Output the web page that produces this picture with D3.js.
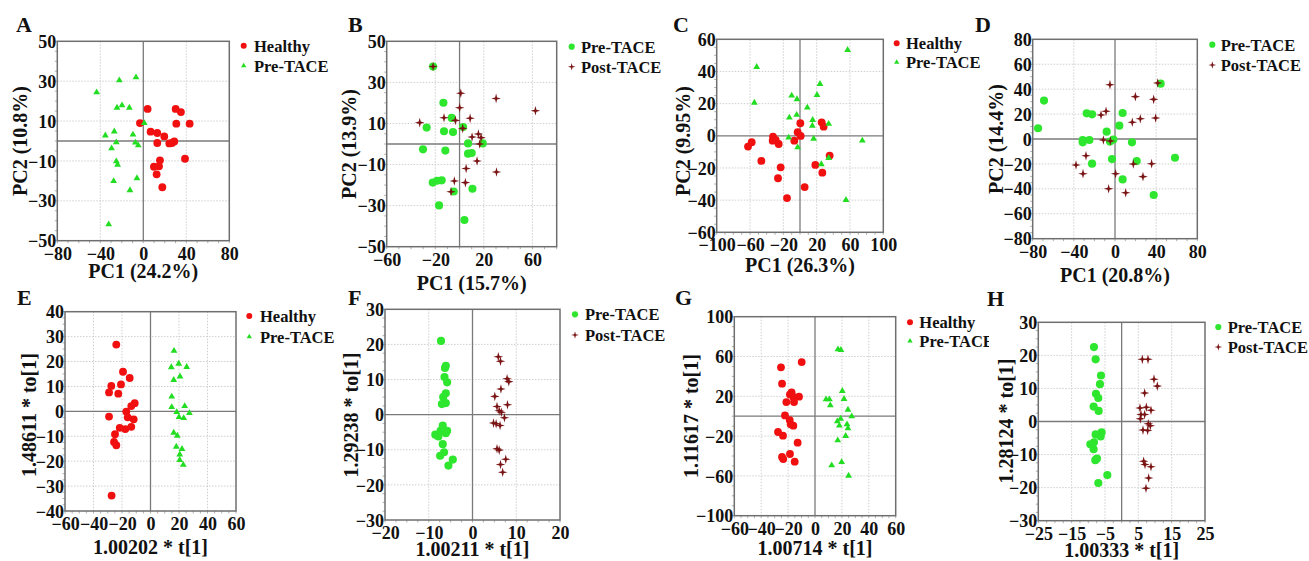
<!DOCTYPE html>
<html>
<head>
<meta charset="utf-8">
<script src="https://cdn.jsdelivr.net/npm/d3@7"></script>
<style>
  html, body { margin: 0; padding: 0; background: #fff; }
  svg { display: block; }
  text { font-family: "Liberation Serif", "Times New Roman", serif; font-weight: bold; fill: #111; }
</style>
</head>
<body>
<svg id="fig" width="1309" height="561"></svg>
<script>
// ---------- Data: score plots (PCA A–D, OPLS-DA E–H) ----------
const A_healthy = [[4.0,16.1],[-3.1,9.0],[6.8,4.7],[13.0,4.0],[19.5,2.3],[13.0,-1.0],[24.2,-1.2],[26.7,-1.0],[28.8,-0.2],[30.1,16.1],[35.0,14.5],[30.7,8.7],[43.1,8.7],[38.8,-8.9],[15.5,-9.7],[9.9,-12.9],[14.6,-12.7],[12.4,-16.7],[17.7,-23.2]];
const A_pre = [[-43.4,24.4],[-22.3,30.4],[-6.8,31.9],[-24.5,16.7],[-19.8,17.9],[-13.0,16.7],[0.9,9.0],[-35.3,2.8],[-27.0,4.8],[-9.6,3.2],[-25.1,-0.7],[-7.4,-0.8],[-4.7,-2.2],[-29.5,-3.7],[-25.1,-10.2],[-23.9,-11.9],[-27.6,-20.1],[-5.9,-18.7],[-12.4,-24.7],[-32.2,-41.8]];

const B_pre = [[-21.8,37.7],[-13.3,20.1],[-27.1,8.0],[-12.8,6.2],[-5.4,5.8],[-6.5,12.7],[2.9,8.3],[-30.1,-2.6],[-11.7,-3.2],[7.0,0.3],[19.1,0.3],[7.0,-4.7],[10.0,-4.4],[-22.1,-18.8],[-18.5,-17.9],[-14.7,-17.7],[-4.8,-23.1],[10.6,-21.8],[-16.9,-29.9],[4.0,-37.0]];
const B_post = [[-21.8,37.7],[1.0,24.7],[30.1,22.2],[62.5,16.2],[0.1,17.7],[8.7,12.5],[-12.8,12.8],[-3.4,11.5],[-32.8,10.4],[2.6,7.6],[10.3,3.4],[15.5,4.9],[17.7,3.1],[16.6,0.0],[14.4,-8.3],[5.4,-11.9],[30.4,-13.6],[-4.3,-18.0],[4.8,-18.8],[-7.0,-23.2]];

const C_healthy = [[-62.4,-6.7],[-58.0,-4.0],[-46.4,-15.6],[-32.8,-3.0],[-32.4,-0.5],[-29.2,-2.6],[-25.6,-5.1],[-23.2,-19.6],[-26.4,-26.4],[-15.6,-38.7],[-6.8,-3.0],[-2.8,2.2],[0.4,7.8],[0.8,-0.1],[5.6,-31.9],[18.4,-18.1],[26.0,8.4],[28.4,5.7],[26.8,-22.9],[35.6,-12.3]];
const C_pre = [[-52.0,42.8],[-54.8,20.6],[57.2,53.4],[-10.0,25.0],[-3.6,22.7],[24.0,32.2],[20.4,25.4],[8.8,17.5],[-12.8,11.3],[-4.0,13.0],[15.2,9.8],[14.8,6.3],[34.4,7.4],[-13.6,-1.1],[-2.8,-7.2],[16.4,-1.8],[74.8,-3.0],[25.6,-17.7],[34.4,-13.8],[55.2,-39.9]];

const D_pre = [[-69.0,30.8],[-74.8,8.6],[-27.5,20.6],[-22.3,19.8],[-31.4,-0.8],[-31.4,-2.7],[-24.9,-0.8],[-22.3,-19.8],[-8.1,5.9],[-4.9,-2.1],[-1.6,-0.5],[-2.9,-16.1],[4.2,10.7],[7.4,20.9],[16.5,-2.7],[21.1,-17.7],[7.4,-32.4],[37.6,-44.9],[44.4,44.4],[58.3,-15.0]];
const D_post = [[-4.9,43.6],[41.5,44.9],[19.8,34.0],[37.6,31.8],[-8.7,22.2],[-13.6,19.3],[24.6,16.3],[39.5,16.9],[16.8,13.4],[-11.3,-0.8],[-4.5,-1.6],[-28.2,-13.4],[-37.9,-20.9],[-31.1,-27.8],[0.6,-27.8],[-6.2,-39.9],[10.4,-43.1],[17.8,-20.1],[27.2,-30.2],[35.6,-19.8]];

const E_healthy = [[-24.0,26.8],[-19.3,15.9],[-14.6,13.4],[-27.5,10.2],[-29.1,7.6],[-20.7,10.8],[-22.6,7.1],[-11.1,3.3],[-13.5,2.1],[-17.0,-0.1],[-16.0,-2.4],[-11.8,-3.2],[-29.1,-2.1],[-21.6,-6.6],[-17.7,-7.1],[-13.5,-6.2],[-24.9,-9.2],[-25.6,-12.3],[-24.0,-13.6],[-27.3,-33.8]];
const E_pre = [[16.5,24.3],[19.8,19.1],[25.4,17.8],[14.6,17.7],[20.7,14.0],[16.3,12.6],[14.9,5.9],[14.9,1.7],[24.0,2.1],[18.4,-0.3],[27.3,-0.7],[20.0,-2.3],[23.3,-2.7],[16.3,-8.6],[18.8,-9.8],[18.1,-14.2],[22.1,-15.1],[20.5,-17.3],[20.5,-19.5],[23.0,-21.5]];

const F_pre = [[-7.2,21.0],[-6.1,13.9],[-6.3,13.3],[-6.4,10.7],[-5.8,9.2],[-6.1,6.1],[-6.7,5.0],[-6.1,3.3],[-7.0,3.0],[-6.8,-3.1],[-7.3,-4.6],[-5.8,-4.6],[-6.1,-5.3],[-8.5,-5.7],[-7.8,-6.2],[-6.8,-8.4],[-6.5,-10.7],[-7.4,-11.7],[-4.5,-12.8],[-5.5,-14.5]];
const F_post = [[5.9,16.5],[6.4,15.2],[7.9,10.2],[8.3,9.4],[6.5,7.3],[5.1,5.2],[5.6,2.3],[8.0,2.8],[6.1,1.1],[6.6,0.7],[7.3,-0.9],[4.8,-2.4],[5.4,-2.6],[6.3,-3.1],[5.6,-9.7],[6.1,-10.1],[7.6,-12.7],[6.4,-14.2],[6.9,-16.4]];

const G_healthy = [[-9.9,54.4],[-25.3,49.1],[-24.5,32.7],[-17.4,24.0],[-18.6,21.9],[-11.9,19.6],[-16.1,19.3],[-21.3,14.2],[-15.6,14.2],[-22.3,0.8],[-18.8,-3.9],[-18.1,-8.2],[-16.1,-9.5],[-27.5,-15.9],[-23.8,-19.6],[-12.9,-26.6],[-18.6,-38.0],[-24.5,-41.0],[-23.6,-43.1],[-15.1,-45.7]];
const G_pre = [[17.1,67.2],[19.3,66.5],[20.3,25.3],[8.2,16.9],[10.7,16.9],[21.6,17.3],[11.4,10.9],[24.5,6.5],[27.3,-0.2],[19.1,-2.5],[16.6,-5.2],[18.1,-9.5],[23.8,-8.2],[24.5,-12.2],[22.8,-19.9],[16.9,-24.3],[12.4,-49.4],[19.8,-46.1],[25.0,-59.8]];

const H_pre = [[-8.3,22.5],[-7.8,18.8],[-6.2,13.9],[-6.5,11.3],[-7.7,8.4],[-7.0,7.1],[-8.4,4.5],[-6.9,3.2],[-6.0,-3.3],[-7.8,-3.9],[-6.3,-4.5],[-9.4,-6.9],[-8.3,-6.3],[-8.4,-8.4],[-7.4,-11.2],[-7.9,-11.7],[-4.3,-16.2],[-7.0,-18.6]];
const H_post = [[6.2,18.8],[7.9,18.8],[9.7,12.8],[10.7,10.7],[6.9,8.6],[5.5,4.1],[7.4,4.3],[8.8,3.4],[5.8,2.1],[6.9,2.1],[5.6,0.8],[8.0,-0.7],[8.6,-1.3],[6.4,-2.6],[7.8,-2.7],[6.6,-12.0],[7.0,-13.0],[8.8,-13.7],[8.1,-17.1],[7.3,-20.2]];

// ---------- Tick values ----------
const A_xTicks = [-80, -40, 0, 40, 80],            A_yTicks = [-50, -30, -10, 10, 30, 50];
const B_xTicks = [-60, -20, 20, 60],               B_yTicks = [-50, -30, -10, 10, 30, 50];
const C_xTicks = [-100, -60, -20, 20, 60, 100],    C_yTicks = [-60, -40, -20, 0, 20, 40, 60];
const D_xTicks = [-80, -40, 0, 40, 80],            D_yTicks = [-80, -60, -40, -20, 0, 20, 40, 60, 80];
const E_xTicks = [-60, -40, -20, 0, 20, 40, 60],   E_yTicks = [-40, -30, -20, -10, 0, 10, 20, 30, 40];
const F_xTicks = [-20, -10, 0, 10, 20],            F_yTicks = [-30, -20, -10, 0, 10, 20, 30];
const G_xTicks = [-60, -40, -20, 0, 20, 40, 60],   G_yTicks = [-100, -60, -20, 20, 60, 100];
const H_xTicks = [-25, -15, -5, 5, 15, 25],        H_yTicks = [-30, -20, -10, 0, 10, 20, 30];

// ---------- Labels ----------
const panelLetters = ["A", "B", "C", "D", "E", "F", "G", "H"];
const xTitles = ["PC1 (24.2%)", "PC1 (15.7%)", "PC1 (26.3%)", "PC1 (20.8%)",
                 "1.00202 * t[1]", "1.00211 * t[1]", "1.00714 * t[1]", "1.00333 * t[1]"];
const yTitles = ["PC2 (10.8%)", "PC2 (13.9%)", "PC2 (9.95%)", "PC2 (14.4%)",
                 "1.48611 * to[1]", "1.29238 * to[1]", "1.11617 * to[1]", "1.28124 * to[1]"];
const groupNames = { healthy: "Healthy", pre: "Pre-TACE", post: "Post-TACE" };

// ---------- Styles ----------
const COLORS = { healthy: "#f01010", preTri: "#22dd22", preDot: "#2ee62e", post: "#7a1414" };
const FRAME = "#6f6f6f", ZERO = "#7a7a7a", GRID = "#cfcfcf";

// four-pointed star symbol
const star4 = {
  draw(ctx, size) {
    const R = Math.sqrt(size) * 0.62, r = R * 0.3;
    for (let i = 0; i < 8; i++) {
      const a = -Math.PI / 2 + i * Math.PI / 4;
      const rad = i % 2 === 0 ? R : r;
      const px = rad * Math.cos(a), py = rad * Math.sin(a);
      if (i === 0) ctx.moveTo(px, py); else ctx.lineTo(px, py);
    }
    ctx.closePath();
  }
};

const MARK = {
  redDot:   { type: d3.symbolCircle,   size: 48, fill: COLORS.healthy, legendSize: 28 },
  greenTri: { type: d3.symbolTriangle, size: 20, fill: COLORS.preTri,  legendSize: 12 },
  greenDot: { type: d3.symbolCircle,   size: 52, fill: COLORS.preDot,  legendSize: 30 },
  star:     { type: star4,             size: 60, fill: COLORS.post,    legendSize: 38 }
};

// ---------- Layout of the eight panels ----------
const layout = [
  { plot: [57.3, 41.3, 229.3, 240.7],   letter: [16, 31.5],  leg: [243.7, 45.7, 65.7, 254],    xt: [143.3, 278], yt: [27, 141] },
  { plot: [386.7, 41.3, 556.7, 246.7],  letter: [348, 31.5], leg: [571.7, 46.7, 66.7, 581],    xt: [471.7, 290], yt: [356, 144] },
  { plot: [716.7, 39.3, 883.3, 232.3],  letter: [673, 31.5], leg: [896.7, 43.3, 62.3, 906],    xt: [800, 272],   yt: [690, 141] },
  { plot: [1032.7, 39.3, 1197.3, 238.7],letter: [975, 31.5], leg: [1212.3, 44.7, 65, 1220.7],  xt: [1115, 282],  yt: [1003, 139] },
  { plot: [65, 311.7, 236, 511],        letter: [17, 305],   leg: [249.3, 316, 336.7, 260],    xt: [150.5, 554], yt: [36, 415] },
  { plot: [385, 309.3, 560, 520],       letter: [348, 305],  leg: [575, 314.3, 335, 585],      xt: [472.5, 556], yt: [358, 415] },
  { plot: [734.3, 316.7, 895.7, 515.7], letter: [675, 305],  leg: [910, 322.3, 341, 919.3],    xt: [815, 555],   yt: [698, 416], clipRight: 989 },
  { plot: [1038.3, 322.3, 1205, 520.7], letter: [987, 306],  leg: [1218.3, 327, 347, 1227.7],  xt: [1121.7, 557],yt: [1013, 421] }
];

const panels = [
  { xTicks: A_xTicks, yTicks: A_yTicks, series: [{ data: A_healthy, mark: "redDot", name: groupNames.healthy }, { data: A_pre, mark: "greenTri", name: groupNames.pre }] },
  { xTicks: B_xTicks, yTicks: B_yTicks, xDomain: [-60, 80], series: [{ data: B_pre, mark: "greenDot", name: groupNames.pre }, { data: B_post, mark: "star", name: groupNames.post }] },
  { xTicks: C_xTicks, yTicks: C_yTicks, series: [{ data: C_healthy, mark: "redDot", name: groupNames.healthy }, { data: C_pre, mark: "greenTri", name: groupNames.pre }] },
  { xTicks: D_xTicks, yTicks: D_yTicks, series: [{ data: D_pre, mark: "greenDot", name: groupNames.pre }, { data: D_post, mark: "star", name: groupNames.post }] },
  { xTicks: E_xTicks, yTicks: E_yTicks, series: [{ data: E_healthy, mark: "redDot", name: groupNames.healthy }, { data: E_pre, mark: "greenTri", name: groupNames.pre }] },
  { xTicks: F_xTicks, yTicks: F_yTicks, series: [{ data: F_pre, mark: "greenDot", name: groupNames.pre }, { data: F_post, mark: "star", name: groupNames.post }] },
  { xTicks: G_xTicks, yTicks: G_yTicks, series: [{ data: G_healthy, mark: "redDot", name: groupNames.healthy }, { data: G_pre, mark: "greenTri", name: groupNames.pre }] },
  { xTicks: H_xTicks, yTicks: H_yTicks, series: [{ data: H_pre, mark: "greenDot", name: groupNames.pre }, { data: H_post, mark: "star", name: groupNames.post }] }
];

const svg = d3.select("#fig");
const defs = svg.append("defs");

panels.forEach((p, i) => {
  const L = layout[i];
  const [x0, y0, x1, y1] = L.plot;
  const xDom = p.xDomain || d3.extent(p.xTicks);
  const yDom = d3.extent(p.yTicks);
  const x = d3.scaleLinear().domain(xDom).range([x0, x1]);
  const y = d3.scaleLinear().domain(yDom).range([y1, y0]);
  const g = svg.append("g").attr("class", "panel-" + panelLetters[i]);

  // dotted grid at interior major ticks
  const gx = p.xTicks.filter(v => v > xDom[0] && v < xDom[1] && v !== 0);
  const gy = p.yTicks.filter(v => v > yDom[0] && v < yDom[1] && v !== 0);
  g.append("g").selectAll("line").data(gx).join("line")
    .attr("x1", d => x(d)).attr("x2", d => x(d)).attr("y1", y0).attr("y2", y1)
    .attr("stroke", GRID).attr("stroke-width", 1).attr("stroke-dasharray", "1.5,1.5");
  g.append("g").selectAll("line").data(gy).join("line")
    .attr("y1", d => y(d)).attr("y2", d => y(d)).attr("x1", x0).attr("x2", x1)
    .attr("stroke", GRID).attr("stroke-width", 1).attr("stroke-dasharray", "1.5,1.5");

  // minor ticks along left and bottom edges
  const xStep = (p.xTicks[1] - p.xTicks[0]) / 4;
  const yStep = (p.yTicks[1] - p.yTicks[0]) / 4;
  const xMinor = d3.range(xDom[0], xDom[1] + 1e-9, xStep);
  const yMinor = d3.range(yDom[0], yDom[1] + 1e-9, yStep);
  g.append("g").selectAll("line").data(yMinor).join("line")
    .attr("x1", x0 - 2.5).attr("x2", x0).attr("y1", d => y(d)).attr("y2", d => y(d))
    .attr("stroke", "#9a9a9a").attr("stroke-width", 0.8);
  g.append("g").selectAll("line").data(xMinor).join("line")
    .attr("y1", y1).attr("y2", y1 + 2.5).attr("x1", d => x(d)).attr("x2", d => x(d))
    .attr("stroke", "#9a9a9a").attr("stroke-width", 0.8);

  // zero reference lines
  g.append("line").attr("x1", x(0)).attr("x2", x(0)).attr("y1", y0).attr("y2", y1)
    .attr("stroke", ZERO).attr("stroke-width", 1.3);
  g.append("line").attr("x1", x0).attr("x2", x1).attr("y1", y(0)).attr("y2", y(0))
    .attr("stroke", ZERO).attr("stroke-width", 1.3);

  // points
  p.series.forEach(s => {
    const m = MARK[s.mark];
    const sym = d3.symbol().type(m.type).size(m.size);
    g.append("g").selectAll("path").data(s.data).join("path")
      .attr("d", sym)
      .attr("transform", d => `translate(${x(d[0])},${y(d[1])})`)
      .attr("fill", m.fill);
  });

  // frame
  g.append("rect").attr("x", x0).attr("y", y0).attr("width", x1 - x0).attr("height", y1 - y0)
    .attr("fill", "none").attr("stroke", FRAME).attr("stroke-width", 1.5);

  // axes (labels only; frame drawn above)
  const xa = g.append("g").attr("transform", `translate(0,${y1})`)
    .call(d3.axisBottom(x).tickValues(p.xTicks).tickSize(0).tickPadding(6).tickFormat(d3.format("d")));
  const ya = g.append("g").attr("transform", `translate(${x0},0)`)
    .call(d3.axisLeft(y).tickValues(p.yTicks).tickSize(0).tickPadding(1).tickFormat(d3.format("d")));
  [xa, ya].forEach(a => {
    a.select(".domain").remove();
    a.selectAll("text").attr("font-family", null).attr("fill", null).style("font-size", "18px");
  });
  xa.selectAll("text").attr("dy", "0.72em");
  ya.selectAll("text").attr("dy", "0.34em");

  // axis titles
  g.append("text").attr("x", L.xt[0]).attr("y", L.xt[1]).attr("text-anchor", "middle")
    .style("font-size", "20px").text(xTitles[i]);
  g.append("text").attr("transform", `translate(${L.yt[0]},${L.yt[1]}) rotate(-90)`)
    .attr("text-anchor", "middle").style("font-size", "20px").text(yTitles[i]);

  // panel letter
  g.append("text").attr("x", L.letter[0]).attr("y", L.letter[1])
    .style("font-size", "22px").text(panelLetters[i]);

  // legend
  const leg = g.append("g");
  if (L.clipRight) {
    const id = "clip-" + i;
    defs.append("clipPath").attr("id", id).append("rect")
      .attr("x", L.leg[0] - 20).attr("y", L.leg[1] - 20).attr("width", L.clipRight - L.leg[0] + 20).attr("height", 60);
    leg.attr("clip-path", `url(#${id})`);
  }
  p.series.forEach((s, k) => {
    const m = MARK[s.mark];
    const ly = k === 0 ? L.leg[1] : L.leg[2];
    leg.append("path").attr("d", d3.symbol().type(m.type).size(m.legendSize)())
      .attr("transform", `translate(${L.leg[0]},${ly})`).attr("fill", m.fill);
    leg.append("text").attr("x", L.leg[3]).attr("y", ly + 6)
      .style("font-size", "16.5px").text(s.name);
  });
});
</script>
</body>
</html>
